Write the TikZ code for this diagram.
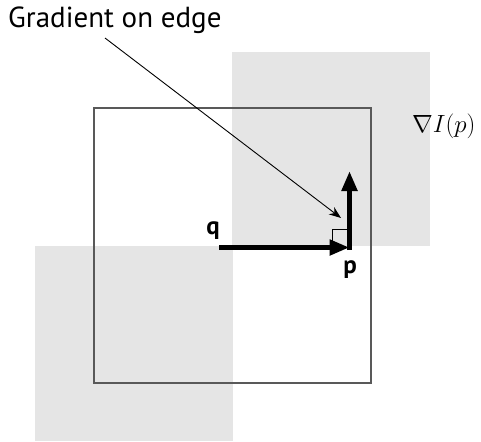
\documentclass[tikz,border=0pt]{standalone}
\usepackage{fontspec}
\setmainfont{PT Sans}
\usetikzlibrary{arrows.meta}
\begin{document}
\begin{tikzpicture}[x=1pt,y=-1pt,
  shade box/.style={fill=black!10},
  big arrow/.style={line width=5pt,-{Triangle[length=20pt,width=15pt]}},
  thin arrow/.style={line width=0.9pt,-{Stealth[length=12pt,width=9pt]}},
  pt label/.style={font=\fontsize{25}{28}\selectfont\bfseries,inner sep=0pt}]
\useasboundingbox (0,0) rectangle (481,441);
% shaded neighbourhoods
\fill[shade box] (232,52) rectangle (430,246);
\fill[shade box] (35,246) rectangle (233,441);
% window
\draw[black!65,line width=1.5pt] (94,108) rectangle (371,383);
% points and gradient
\coordinate (q) at (219,247.5);
\coordinate (p) at (349.5,247.5);
\coordinate (pbase) at (349.5,250);
\coordinate (grad) at (349.5,171);
\draw[line width=0.8pt] (332,247.5) |- (349.5,229);
\draw[big arrow] (q) -- (p);
\draw[big arrow] (pbase) -- (grad);
\node[pt label] (qlabel) at (213,231) {q};
\node[pt label] (plabel) at (350,270) {p};
\node[inner sep=0pt,anchor=west] (gradlabel) at (412,126)
  {\fontsize{27}{30}\selectfont$\nabla I(p)$};
% callout
\node[inner sep=0pt,anchor=west,font=\fontsize{29}{32}\selectfont] (title) at (8,20) {Gradient on edge};
\coordinate (tip) at (341,218);
\draw[thin arrow] (105,38) -- (tip);
\end{tikzpicture}
\end{document}
